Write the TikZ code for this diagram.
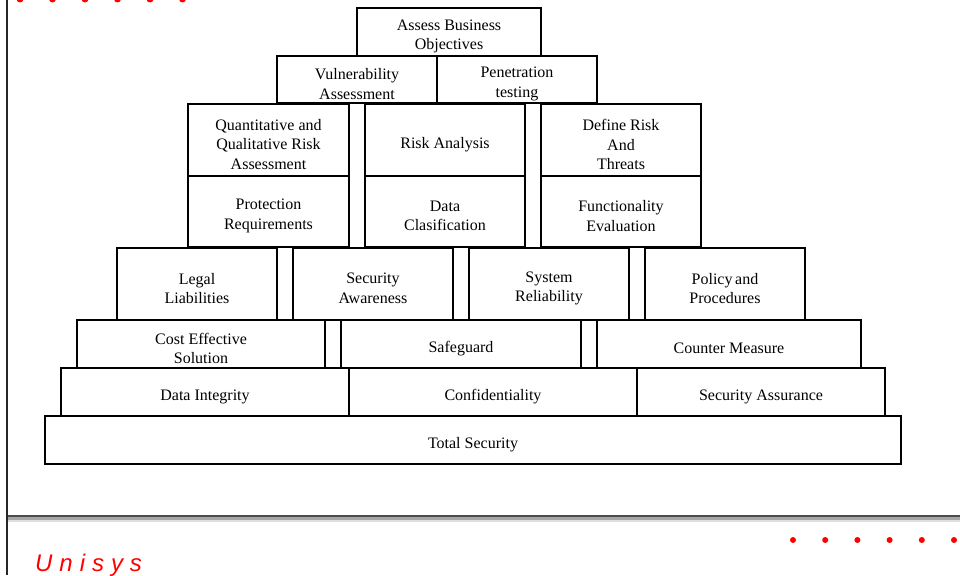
\documentclass[tikz,border=0pt]{standalone}
\usepackage{fontspec}
\setmainfont{Liberation Serif}
\newfontfamily\logofont[LetterSpace=29]{Liberation Sans}
\begin{document}
\begin{tikzpicture}[x=1pt,y=-1pt,
    blk/.style={draw,line width=1.3pt,inner sep=0pt},
    lbl/.style={yshift=-4.5pt,inner sep=0pt,align=center,font=\fontsize{16}{19.5}\selectfont},
    txt/.style={label={[lbl]center:{#1}}},
    sz/.style 2 args={minimum width=#1pt,minimum height=#2pt}]
            \useasboundingbox (0,0) rectangle (960,575);
            \draw[line width=2pt,black!85] (7,0)--(7,575); %left frame
            \foreach \i in {0,...,5} \fill[red] (20+32.5*\i,-1) circle (3.5pt); %top dots
            % pyramid
            \node[blk,sz={184}{48},txt={Assess Business\\Objectives}] (abo) at (449,32) {};
            \node[blk,sz={160}{47},txt={Vulnerability\\Assessment}] (vul) at (357,79.5) {};
            \node[blk,sz={160}{47},txt={Penetration\\testing}] (pen) at (517,79.5) {};
            \node[blk,sz={161}{72},txt={Quantitative and\\Qualitative Risk\\Assessment}] (qqr) at (268.5,140) {};
            \node[blk,sz={160}{72},txt={Risk Analysis}] (ria) at (445,140) {};
            \node[blk,sz={160}{72},txt={Define Risk\\And\\Threats}] (drt) at (621,140) {};
            \node[blk,sz={161}{71},txt={Protection\\Requirements}] (pro) at (268.5,211.5) {};
            \node[blk,sz={160}{71},txt={Data\\Clasification}] (dcl) at (445,211.5) {};
            \node[blk,sz={160}{71},txt={Functionality\\Evaluation}] (fev) at (621,211.5) {};
            \node[blk,sz={160}{72},txt={Legal\\Liabilities}] (leg) at (197,284) {};
            \node[blk,sz={160}{72},txt={Security\\Awareness}] (saw) at (373,284) {};
            \node[blk,sz={160}{72},txt={System\\Reliability}] (sre) at (549,284) {};
            \node[blk,sz={160}{72},txt={Policy\,and\\Procedures}] (pol) at (725,284) {};
            \node[blk,sz={248}{48},txt={Cost Effective\\Solution}] (cos) at (201,344) {};
            \node[blk,sz={240}{48},txt={Safeguard}] (saf) at (461,344) {};
            \node[blk,sz={264}{48},txt={Counter Measure}] (cmr) at (729,344) {};
            \node[blk,sz={288}{48},txt={Data Integrity}] (din) at (205,392) {};
            \node[blk,sz={288}{48},txt={Confidentiality}] (con) at (493,392) {};
            \node[blk,sz={248}{48},txt={Security Assurance}] (sas) at (761,392) {};
            \node[blk,sz={856}{48},txt={Total Security}] (tot) at (473,440) {};
            % footer
            \draw[line width=2pt,black!70] (8,516)--(960,516);
            \draw[line width=3pt,black!35] (8,518.5)--(960,518.5);
            \draw[line width=2pt,black!12] (8,521)--(960,521);
            \foreach \i in {0,...,5} \fill[red] (793+32.2*\i,540) circle (3pt); %bottom dots
            \node[anchor=base west,text=red,inner sep=0pt,font=\logofont\itshape\fontsize{24}{24}\selectfont] (logo) at (35,571) {Unisys};
        \end{tikzpicture}
\end{document}
